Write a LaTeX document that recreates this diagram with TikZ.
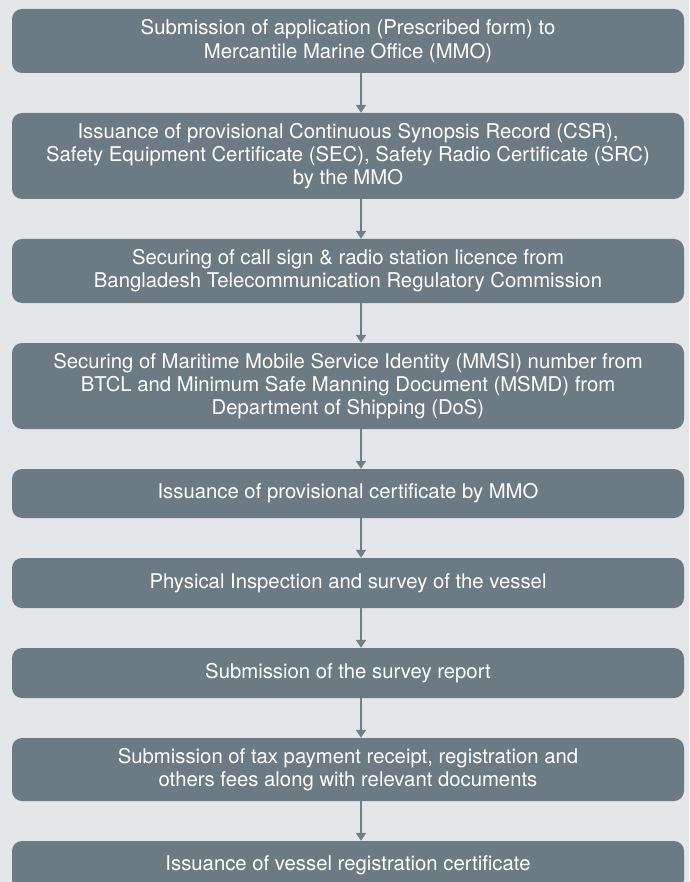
\documentclass[tikz,border=0pt]{standalone}
\usepackage{fontspec}
\setmainfont{TeX Gyre Heros}
\usepackage{tikz}
\usetikzlibrary{arrows.meta, positioning}
\usepackage{xcolor}
\definecolor{stepslate}{RGB}{108, 123, 131}
\definecolor{pagegrey}{RGB}{227, 231, 233}
\definecolor{linkgrey}{RGB}{112, 126, 134}

\tikzset{
    stepbox/.style={rounded corners=10pt, fill=stepslate, text=white, align=center,
        minimum width=672pt, inner sep=0pt, font=\fontsize{20.3}{23.2}\selectfont},
    steplink/.style={linkgrey, line width=1.6pt, -{Triangle[width=10pt, length=8pt]}}
}

\begin{document}
\begin{tikzpicture}[x=1pt, y=-1pt]
    \clip (0,0) rectangle (689,882);
    \fill[pagegrey] (0,0) rectangle (689,882);

    % Registration steps
    \node[stepbox, minimum height=64pt] (apply) at (348,41) {Submission of application (Prescribed form) to\\Mercantile Marine Office (MMO)};
    \node[stepbox, minimum height=86pt] (csr) at (348,156) {Issuance of provisional Continuous Synopsis Record (CSR),\\Safety Equipment Certificate (SEC), Safety Radio Certificate (SRC)\\by the MMO};
    \node[stepbox, minimum height=64pt] (callsign) at (348,271) {Securing of call sign \& radio station licence from\\Bangladesh Telecommunication Regulatory Commission};
    \node[stepbox, minimum height=86pt] (mmsi) at (348,386) {Securing of Maritime Mobile Service Identity (MMSI) number from\\BTCL and Minimum Safe Manning Document (MSMD) from\\Department of Shipping (DoS)};
    \node[stepbox, minimum height=49pt] (provcert) at (348,493.5) {Issuance of provisional certificate by MMO};
    \node[stepbox, minimum height=50pt] (inspect) at (348,583) {Physical Inspection and survey of the vessel};
    \node[stepbox, minimum height=50pt] (report) at (348,673) {Submission of the survey report};
    \node[stepbox, minimum height=63pt] (fees) at (348,769.5) {Submission of tax payment receipt, registration and\\others fees along with relevant documents};
    \node[stepbox, minimum height=49pt] (regcert) at (348,865.5) {Issuance of vessel registration certificate};

    % Connectors
    \foreach \from/\to in {apply/csr, csr/callsign, callsign/mmsi, mmsi/provcert, provcert/inspect, inspect/report, report/fees, fees/regcert}
        \draw[steplink] ([xshift=13pt]\from.south) -- ([xshift=13pt]\to.north);
\end{tikzpicture}
\end{document}
